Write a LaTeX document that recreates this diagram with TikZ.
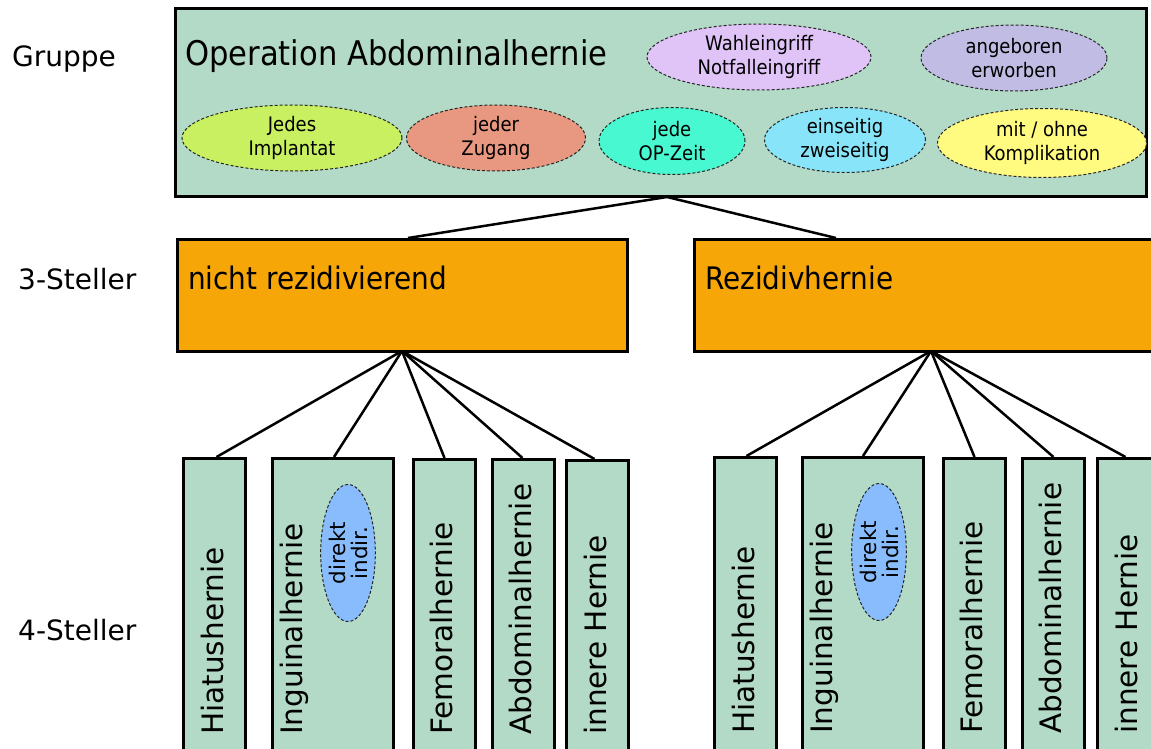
\documentclass[tikz,border=0pt]{standalone}
\usepackage{fontspec}
\setmainfont{DejaVu Sans}
\newfontfamily\cond[FakeStretch=0.9]{DejaVu Sans}
\usetikzlibrary{shapes.geometric}
\definecolor{boxgreen}{RGB}{179,218,198}
\definecolor{boxorange}{RGB}{247,166,8}
\definecolor{cWahl}{RGB}{224,196,248}
\definecolor{cAngeb}{RGB}{192,188,228}
\definecolor{cImpl}{RGB}{200,240,96}
\definecolor{cZug}{RGB}{232,152,128}
\definecolor{cOP}{RGB}{72,248,208}
\definecolor{cSeit}{RGB}{136,228,248}
\definecolor{cKompl}{RGB}{255,250,128}
\definecolor{cDir}{RGB}{136,188,252}
\begin{document}
\begin{tikzpicture}[x=1pt,y=-1pt,
  gbox/.style={draw=black, line width=3pt, fill=boxgreen, rectangle, inner sep=0pt, anchor=north west},
  obox/.style={draw=black, line width=3pt, fill=boxorange, rectangle, inner sep=0pt, anchor=north west},
  vbox/.style={gbox, minimum width=62pt, minimum height=310pt},
  ell/.style={ellipse, draw=black!85, line width=1pt, dash pattern=on 3pt off 2pt, inner sep=0pt, align=center, font=\cond\fontsize{20}{24}\selectfont},
  dell/.style={ellipse, draw=black!85, line width=1pt, dash pattern=on 3pt off 2pt, inner sep=0pt, align=center, fill=cDir, rotate=90, minimum width=137pt, minimum height=53pt, font=\fontsize{21.5}{22}\selectfont},
  lbl/.style={anchor=base west, inner sep=0pt, font=\fontsize{28}{30}\selectfont},
  head/.style={anchor=base west, inner sep=0pt, font=\cond\fontsize{31}{34}\selectfont},
  vtext/.style={rotate=90, anchor=base west, inner sep=0pt, font=\fontsize{29.5}{30}\selectfont},
  conn/.style={line width=2.5pt}
]
\useasboundingbox (0,0) rectangle (1151,749);

% left labels
\node[lbl] (lg) at (12,67) {Gruppe};
\node[lbl] (l3) at (18,289) {3-Steller};
\node[lbl] (l4) at (18,640) {4-Steller};

% top box
\node[gbox, minimum width=971pt, minimum height=188pt] (top) at (174,7) {};
\node[head, font=\cond\fontsize{34}{38}\selectfont] (title) at (185,66) {Operation Abdominalhernie};
\node[ell, fill=cWahl, minimum width=224pt, minimum height=66pt] (wahl) at (759,57) {Wahleingriff\\Notfalleingriff};
\node[ell, fill=cAngeb, minimum width=186pt, minimum height=66pt] (angeb) at (1014,58) {angeboren\\erworben};
\node[ell, fill=cImpl, minimum width=220pt, minimum height=66pt] (impl) at (292,138) {Jedes\\Implantat};
\node[ell, fill=cZug, minimum width=179pt, minimum height=66pt] (zug) at (496,138) {jeder\\Zugang};
\node[ell, fill=cOP, minimum width=146pt, minimum height=67pt] (opz) at (672,141) {jede\\OP-Zeit};
\node[ell, fill=cSeit, minimum width=161pt, minimum height=65pt] (seit) at (845,140) {einseitig\\zweiseitig};
\node[ell, fill=cKompl, minimum width=209pt, minimum height=69pt] (kompl) at (1042,143) {mit / ohne\\Komplikation};

% 3-Steller boxes
\node[obox, minimum width=450pt, minimum height=112pt] (nr) at (176,238) {};
\node[head] (nrt) at (188,289) {nicht rezidivierend};
\node[obox, minimum width=476pt, minimum height=112pt] (rz) at (693,238) {};
\node[head] (rzt) at (705,289) {Rezidivhernie};

% connectors top -> 3-Steller
\coordinate (apex) at (667,197);
\coordinate (nrtop) at (408,238);
\coordinate (rztop) at (836,238);
\draw[conn] (apex) -- (nrtop);
\draw[conn] (apex) -- (rztop);

% 4-Steller left group
\node[vbox] (a1) at (182,457) {};
\node[vbox, minimum width=121pt] (a2) at (271,457) {};
\node[vbox] (a3) at (412,458) {};
\node[vbox] (a4) at (491,458) {};
\node[vbox] (a5) at (565,459) {};
\node[vtext] (ta1) at (223,735) {Hiatushernie};
\node[vtext] (ta2) at (302,735) {Inguinalhernie};
\node[vtext] (ta3) at (452.5,735) {Femoralhernie};
\node[vtext] (ta4) at (531.5,735) {Abdominalhernie};
\node[vtext] (ta5) at (606,735) {innere Hernie};
\node[dell] (ea) at (348,553) {direkt\\indir.};

\coordinate (nrbot) at (402,351);
\foreach \n/\dx in {a1/2,a2/1,a3/0,a4/-1,a5/-3}
  \draw[conn] (nrbot) -- ([xshift=\dx pt]\n.north);

% 4-Steller right group
\node[vbox] (b1) at (713,456) {};
\node[vbox, minimum width=121pt] (b2) at (801,456) {};
\node[vbox] (b3) at (942,457) {};
\node[vbox] (b4) at (1021,457) {};
\node[vbox] (b5) at (1096,457) {};
\node[vtext] (tb1) at (754,734) {Hiatushernie};
\node[vtext] (tb2) at (832,734) {Inguinalhernie};
\node[vtext] (tb3) at (982.5,734) {Femoralhernie};
\node[vtext] (tb4) at (1061.5,734) {Abdominalhernie};
\node[vtext] (tb5) at (1137,734) {innere Hernie};
\node[dell] (eb) at (879,552) {direkt\\indir.};

\coordinate (rzbot) at (931,351);
\foreach \n/\dx in {b1/1,b2/0,b3/0,b4/0,b5/-3}
  \draw[conn] (rzbot) -- ([xshift=\dx pt]\n.north);
\end{tikzpicture}
\end{document}
